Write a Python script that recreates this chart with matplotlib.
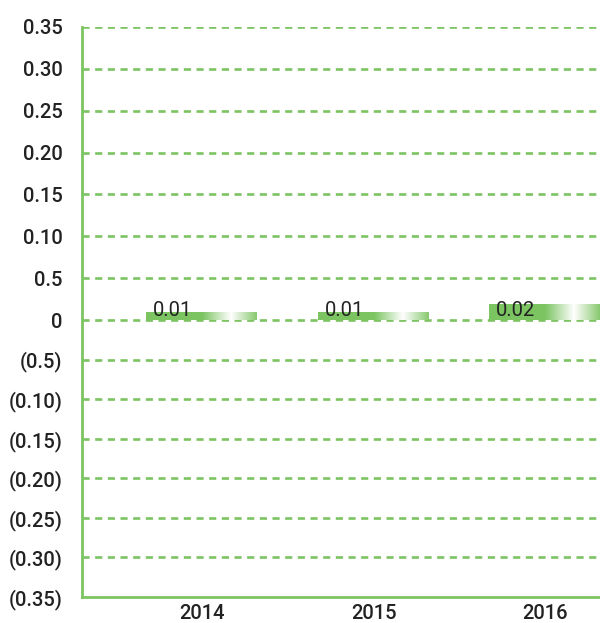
import numpy as np
import matplotlib
matplotlib.use("Agg")
import matplotlib.pyplot as plt
from matplotlib.colors import LinearSegmentedColormap
from matplotlib.patches import Rectangle

years = ["2014", "2015", "2016"]
values = [0.01, 0.01, 0.02]
value_labels = ["0.01", "0.01", "0.02"]
tick_values = [0.35, 0.30, 0.25, 0.20, 0.15, 0.10, 0.05, 0.0,
               -0.05, -0.10, -0.15, -0.20, -0.25, -0.30, -0.35]
tick_labels = ["0.35", "0.30", "0.25", "0.20", "0.15", "0.10", "0.5", "0",
               "(0.5)", "(0.10)", "(0.15)", "(0.20)", "(0.25)", "(0.30)", "(0.35)"]

GREEN = "#7cc462"
plt.rcParams["font.family"] = ["Roboto", "DejaVu Sans"]

# negative half of the axis is drawn slightly compressed
NEG = 0.945


def fwd(y):
    y = np.asarray(y, dtype=float)
    return np.where(y < 0, y * NEG, y)


def inv(y):
    y = np.asarray(y, dtype=float)
    return np.where(y < 0, y / NEG, y)


fig = plt.figure(figsize=(6.0, 6.23), dpi=100)
ax = fig.add_axes([0.1367, 0.0417, 0.8633, 0.915])
ax.set_yscale("function", functions=(fwd, inv))

ax.set_xlim(-0.7, 2.32)
ax.set_ylim(-0.35, 0.35)

# dashed horizontal gridlines (bottom one is the solid spine)
lw = 1.9
for t in tick_values[:-1]:
    ax.axhline(t, color=GREEN, lw=lw, linestyle=(0, (2.7, 2.1)), zorder=1)

for side in ("top", "right"):
    ax.spines[side].set_visible(False)
for side in ("left", "bottom"):
    ax.spines[side].set_color(GREEN)
    ax.spines[side].set_linewidth(2.0)

# bars with a green-white-green horizontal gradient
cmap = LinearSegmentedColormap.from_list(
    "barfade", [(0.0, GREEN), (0.5, GREEN), (0.76, "#ffffff"), (1.0, "#84c76a")])
grad = np.linspace(0, 1, 256).reshape(1, -1)
width = 0.65
x = np.arange(len(years))
for xi, v, lab in zip(x, values, value_labels):
    left = xi - width / 2
    rect = Rectangle((left, 0), width, v, facecolor="none", edgecolor="none")
    ax.add_patch(rect)
    im = ax.imshow(grad, cmap=cmap, aspect="auto", extent=(left, left + width, 0, v),
                   zorder=2, interpolation="bilinear")
    im.set_clip_path(rect)
    ax.text(left + 0.04, 0.0, lab, ha="left", va="bottom", fontsize=14.5,
            color="#222222", zorder=3)

ax.set_xlim(-0.7, 2.32)
ax.set_ylim(-0.35, 0.35)
ax.set_yticks(tick_values)
ax.set_yticklabels(tick_labels)
ax.set_xticks(x)
ax.set_xticklabels(years)
ax.minorticks_off()
ax.tick_params(axis="y", length=0, pad=14, labelsize=14.5, labelcolor="#222222")
ax.tick_params(axis="x", length=0, pad=5, labelsize=14.5, labelcolor="#222222")
for lbl in ax.get_yticklabels() + ax.get_xticklabels():
    lbl.set_fontweight("medium")

fig.savefig("out.png", dpi=100)
